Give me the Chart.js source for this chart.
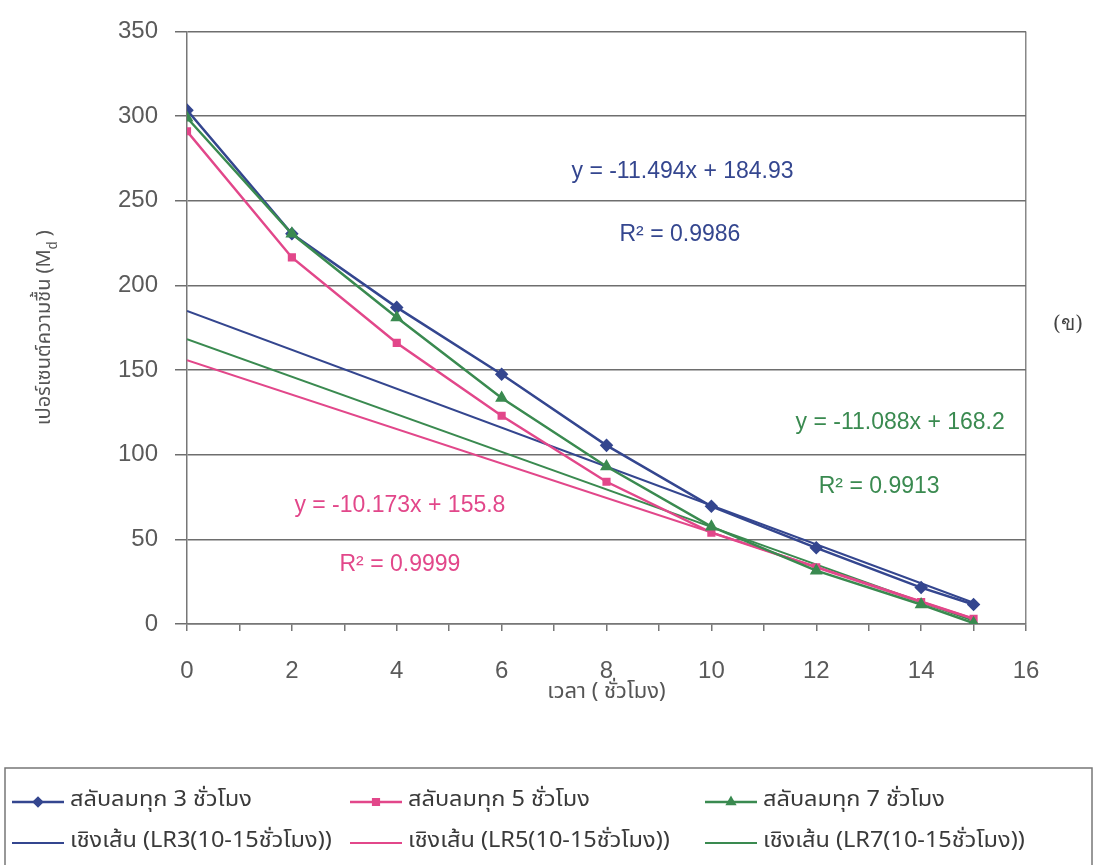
<!DOCTYPE html>
<html>
<head>
<meta charset="utf-8">
<script src="https://cdn.jsdelivr.net/npm/chart.js@4.4.0/dist/chart.umd.min.js"></script>
<style>
  html, body { margin: 0; padding: 0; background: #fff; }
</style>
</head>
<body>
<canvas id="myChart" width="1099" height="865"></canvas>
<script>
// drying time (hours) and moisture content for each air-reversal interval
const hours = [0, 2, 4, 6, 8, 10, 12, 14, 15];
const every3h = [303.5, 230.5, 187, 147.5, 105.5, 69.5, 45, 21.5, 11.5];
const every5h = [291, 216.5, 166, 123, 84, 54, 33.5, 13, 3];
const every7h = [299, 230.5, 181, 133.5, 93, 57.5, 31.5, 11.5, 0.5];

const seriesNames = ["สลับลมทุก 3 ชั่วโมง", "สลับลมทุก 5 ชั่วโมง", "สลับลมทุก 7 ชั่วโมง"];
const trendNames = ["เชิงเส้น (LR3(10-15ชั่วโมง))", "เชิงเส้น (LR5(10-15ชั่วโมง))", "เชิงเส้น (LR7(10-15ชั่วโมง))"];

// linear fits y = a*x + b, with R²
const slopes = [-11.494, -10.173, -11.088];
const intercepts = [184.93, 155.8, 168.2];
const rSquared = ["0.9986", "0.9999", "0.9913"];
const fitRange = [0, 15];

const yTicks = [0, 50, 100, 150, 200, 250, 300, 350];

const colors = ["#34468f", "#e2478a", "#3a8a50"];
const markers = ["rectRot", "rect", "triangle"];
const FONT = "'Liberation Sans', Arial, sans-serif";
const THAI = "'Noto Sans Thai', 'Noto Sans', 'DejaVu Sans', sans-serif";

const pts = (ys) => hours.map((h, i) => ({ x: h, y: ys[i] }));
const fitLine = (i) => fitRange.map((x) => ({ x: x, y: slopes[i] * x + intercepts[i] }));

const datasets = [
  { label: seriesNames[0], data: pts(every3h), order: 2 },
  { label: seriesNames[1], data: pts(every5h), order: 1 },
  { label: seriesNames[2], data: pts(every7h), order: 0 },
].map((d, i) => ({
  ...d,
  showLine: true,
  borderColor: colors[i],
  backgroundColor: colors[i],
  borderWidth: 2.5,
  pointStyle: markers[i],
  pointRadius: i === 1 ? 4 : 5,
}));

trendNames.forEach((name, i) => {
  datasets.push({
    label: name,
    data: fitLine(i),
    showLine: true,
    borderColor: colors[i],
    borderWidth: 2,
    pointRadius: 0,
    pointStyle: false,
    order: 3 + i,
  });
});

// where each equation / R² pair sits, in data units
const eqSpots = [
  { eq: { x: 9.45, y: 267 }, r2: { x: 9.4, y: 230 } },
  { eq: { x: 4.06, y: 70 }, r2: { x: 4.06, y: 35 } },
  { eq: { x: 13.6, y: 119 }, r2: { x: 13.2, y: 81 } },
];

const extras = {
  id: "extras",
  afterDraw(chart) {
    const { ctx, scales } = chart;
    const area = chart.chartArea;
    ctx.save();

    // regression equations
    ctx.font = "23px " + FONT;
    ctx.textAlign = "center";
    ctx.textBaseline = "middle";
    eqSpots.forEach((s, i) => {
      ctx.fillStyle = colors[i];
      const sign = intercepts[i] < 0 ? "-" : "+";
      ctx.fillText("y = " + slopes[i] + "x " + sign + " " + Math.abs(intercepts[i]),
        scales.x.getPixelForValue(s.eq.x), scales.y.getPixelForValue(s.eq.y));
      ctx.fillText("R² = " + rSquared[i],
        scales.x.getPixelForValue(s.r2.x), scales.y.getPixelForValue(s.r2.y));
    });

    // y axis title with subscript d
    ctx.fillStyle = "#555";
    ctx.translate(46, (area.top + area.bottom) / 2);
    ctx.rotate(-Math.PI / 2);
    const main = "เปอร์เซนต์ความชื้น (M";
    ctx.font = "20px " + THAI;
    const w1 = ctx.measureText(main).width;
    ctx.font = "14px " + FONT;
    const w2 = ctx.measureText("d").width;
    ctx.font = "20px " + THAI;
    const w3 = ctx.measureText(" )").width;
    let x0 = -(w1 + w2 + w3) / 2;
    ctx.textAlign = "left";
    ctx.fillText(main, x0, 0);
    ctx.font = "14px " + FONT;
    ctx.fillText("d", x0 + w1, 7);
    ctx.font = "20px " + THAI;
    ctx.fillText(" )", x0 + w1 + w2, 0);
    ctx.setTransform(1, 0, 0, 1, 0, 0);

    // panel mark
    ctx.fillStyle = "#444";
    ctx.font = "21px 'DejaVu Serif', serif";
    ctx.textAlign = "center";
    ctx.fillText("(ข)", 1068, 325);

    // legend box, three columns by two rows
    ctx.strokeStyle = "#777";
    ctx.lineWidth = 1.5;
    ctx.strokeRect(5, 768, 1087, 100);
    const colX = [12, 350, 705];
    const rowY = [802, 843];
    ctx.textAlign = "left";
    chart.data.datasets.forEach((d, k) => {
      const col = k % 3, row = Math.floor(k / 3);
      const x = colX[col], y = rowY[row];
      ctx.strokeStyle = d.borderColor;
      ctx.lineWidth = d.borderWidth;
      ctx.beginPath();
      ctx.moveTo(x, y);
      ctx.lineTo(x + 52, y);
      ctx.stroke();
      if (d.pointRadius) {
        Chart.helpers.drawPoint(ctx, {
          pointStyle: d.pointStyle, radius: 4, rotation: 0, borderWidth: 1,
        }, x + 26, y);
        ctx.fillStyle = d.borderColor;
        ctx.fill();
      }
      ctx.fillStyle = "#3a3a3a";
      ctx.font = "21px " + THAI;
      ctx.save();
      ctx.translate(x + 58, y);
      ctx.scale(1.12, 1);
      ctx.fillText(d.label, 0, 0);
      ctx.restore();
    });
    ctx.restore();
  },
};

new Chart(document.getElementById("myChart"), {
  type: "scatter",
  data: { datasets },
  options: {
    responsive: false,
    animation: false,
    layout: { padding: { left: 0, right: 73, top: 28, bottom: 160 } },
    plugins: { legend: { display: false }, tooltip: { enabled: false } },
    scales: {
      x: {
        type: "linear",
        min: 0,
        max: 16,
        afterBuildTicks: (s) => {
          s.ticks = [];
          for (let v = 0; v <= 16; v++) s.ticks.push({ value: v });
        },
        afterFit: (s) => { s.height = 81; },
        ticks: {
          autoSkip: false,
          maxRotation: 0,
          padding: 28,
          color: "#5a5a5a",
          font: { size: 24, family: FONT, lineHeight: 1 },
          callback: (v) => (v % 2 === 0 ? v : ""),
        },
        grid: {
          color: (c) => (c.tick && c.tick.value === 16 ? "#888" : "rgba(0,0,0,0)"),
          tickColor: "#777",
          tickLength: 7,
          lineWidth: 1.5,
        },
        border: { color: "#777", width: 1.5 },
        title: {
          display: true,
          text: "เวลา ( ชั่วโมง)",
          color: "#555",
          font: { size: 22, family: THAI, lineHeight: 1 },
          padding: { top: 0, bottom: 0 },
        },
      },
      y: {
        min: 0,
        max: 350,
        afterBuildTicks: (s) => { s.ticks = yTicks.map((v) => ({ value: v })); },
        afterFit: (s) => { s.width = 187; },
        ticks: {
          padding: 17,
          color: "#5a5a5a",
          font: { size: 24, family: FONT },
        },
        grid: { color: "#6e6e6e", lineWidth: 1.5, tickLength: 12 },
        border: { color: "#777", width: 1.5 },
      },
    },
  },
  plugins: [extras],
});
</script>
</body>
</html>
